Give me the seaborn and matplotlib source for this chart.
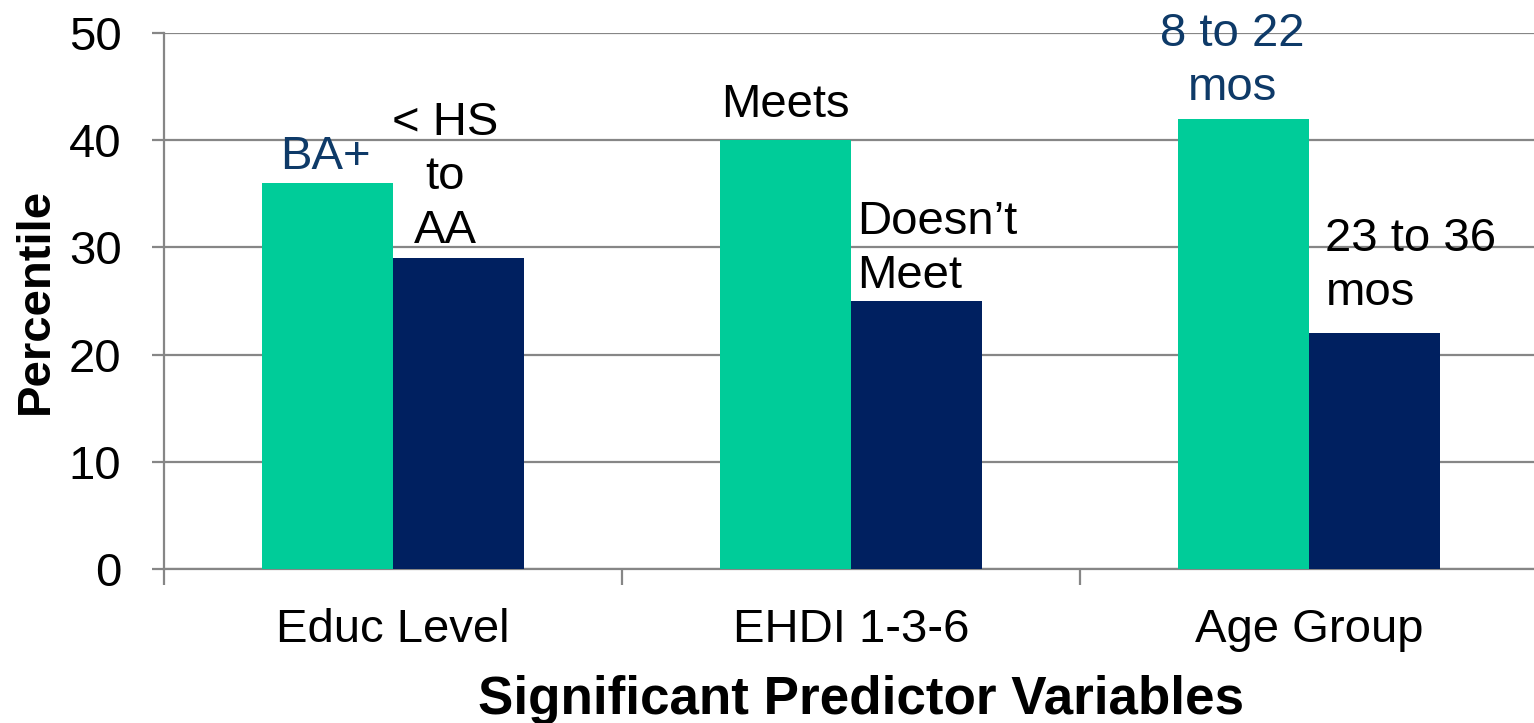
import pandas as pd
import numpy as np
import matplotlib
matplotlib.use("Agg")
import matplotlib.pyplot as plt
import seaborn as sns

# data
categories = ["Educ Level", "EHDI 1-3-6", "Age Group"]
high_values = [36, 40, 42]
low_values = [29, 25, 22]
high_labels = ["BA+", "Meets", "8 to 22\nmos"]
low_labels = ["< HS\nto\nAA", "Doesn\u2019t\nMeet", "23 to 36\nmos"]
y_ticks = [0, 10, 20, 30, 40, 50]

green = "#00CC99"
navy = "#002060"
label_blue = "#0E3A68"
grid_gray = "#868686"

sns.set_theme(style="white")
plt.rcParams["font.family"] = ["Liberation Sans", "DejaVu Sans"]
plt.rcParams["text.color"] = "black"
plt.rcParams["axes.labelcolor"] = "black"
plt.rcParams["xtick.labelcolor"] = "black"
plt.rcParams["ytick.labelcolor"] = "black"

df = pd.DataFrame({
    "category": categories * 2,
    "value": high_values + low_values,
    "group": ["high"] * 3 + ["low"] * 3,
})

fig = plt.figure(figsize=(15.34, 7.23), dpi=100)
ax = fig.add_axes([164 / 1534, 154 / 723, 1374 / 1534, 536 / 723])

sns.barplot(data=df, x="category", y="value", hue="group", palette=[green, navy],
            width=0.572, saturation=1, legend=False, linewidth=0, ax=ax, zorder=3)

ax.set_ylim(0, 50)
ax.set_xlim(-0.5, 2.5)
ax.set_yticks(y_ticks)
ax.yaxis.grid(True, color=grid_gray, linewidth=1.6, zorder=0)
ax.set_axisbelow(True)

for s in ["top", "right"]:
    ax.spines[s].set_visible(False)
for s in ["left", "bottom"]:
    ax.spines[s].set_color(grid_gray)
    ax.spines[s].set_linewidth(1.6)

ax.tick_params(axis="y", which="major", length=8.6, width=1.6, color=grid_gray,
               labelsize=34, pad=22, left=True, labelcolor="black")
ax.tick_params(axis="x", which="major", length=0, labelsize=34, pad=28, labelcolor="black")
ax.set_xticks([-0.5, 0.5, 1.5, 2.5], minor=True)
ax.tick_params(axis="x", which="minor", length=11.5, width=1.6, color=grid_gray, bottom=True)

ax.set_xlabel("Significant Predictor Variables", fontsize=38.2, fontweight="bold")
ax.xaxis.set_label_coords(0.507, -0.197)
ax.set_ylabel("Percentile", fontsize=34, fontweight="bold")
ax.yaxis.set_label_coords(-0.077, 0.5)

# data labels above the bars
high_offsets = [(-2, 4, "center"), (0, 13, "center"), (-11, 9, "center")]
low_offsets = [(-13, 5, "center"), (-59, 3, "left"), (-49, 18, "left")]

for bars, labels, offsets, color in [
    (ax.containers[0], high_labels, high_offsets, [label_blue, "black", label_blue]),
    (ax.containers[1], low_labels, low_offsets, ["black"] * 3),
]:
    for bar, lab, (dx, dy, ha), c in zip(bars, labels, offsets, color):
        xc = bar.get_x() + bar.get_width() / 2
        ax.annotate(lab, (xc, bar.get_height()), xytext=(dx, dy),
                    textcoords="offset pixels", ha=ha, va="bottom",
                    multialignment=ha, fontsize=34, color=c,
                    linespacing=1.3, annotation_clip=False, zorder=5)

fig.savefig("out.png", dpi=100)
